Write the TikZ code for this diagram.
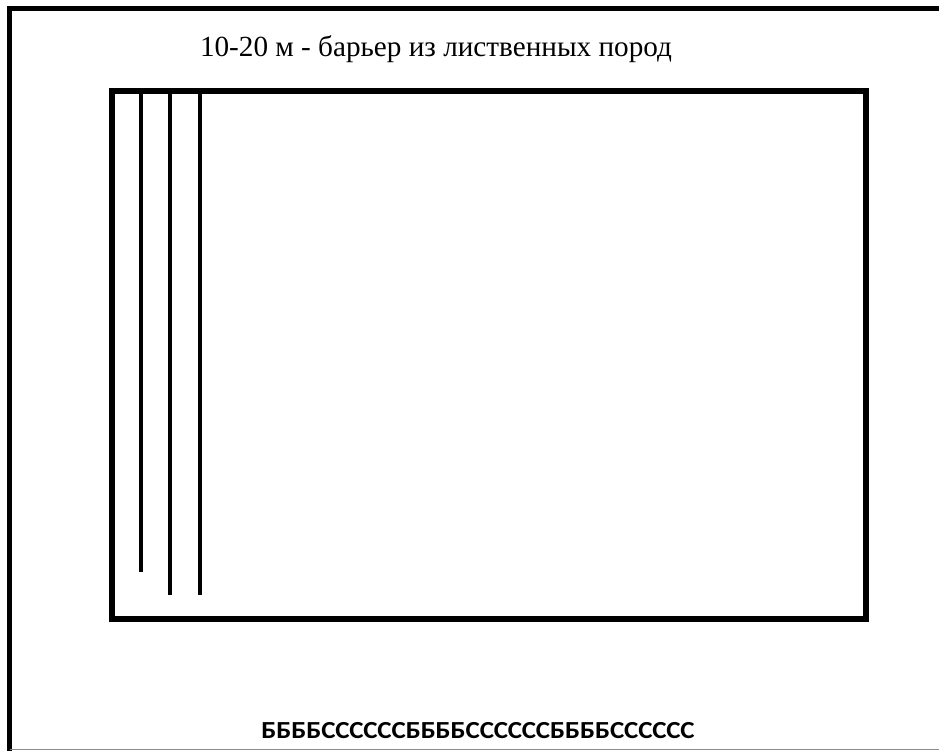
\documentclass[tikz,border=0pt]{standalone}
\usepackage{fontspec}
\setmainfont{Liberation Serif}
\newfontfamily\barfont[FakeStretch=1.1]{Carlito}
\usetikzlibrary{positioning}

\begin{document}
\begin{tikzpicture}[
  x=1pt,y=-1pt,
  frame/.style={line width=5pt},
  plot/.style={line width=6pt},
  row/.style={line width=4pt},
  title/.style={font=\fontsize{29.2}{33}\selectfont,anchor=base,inner sep=0pt},
  code/.style={font=\barfont\bfseries\fontsize{24.5}{28}\selectfont,anchor=base,inner sep=0pt},
]
\useasboundingbox (0,0) rectangle (939,751);

%% ── Outer frame ──────────────────────────────────────────────────────────
\draw[frame] (939,8.5) -- (9.5,8.5) -- (9.5,751);
\draw[line width=1.5pt,black!45] (9.5,749.5) -- (939,749.5);

%% ── Title ────────────────────────────────────────────────────────────────
\node[title] (barrier) at (436,57) {10-20 м - барьер из лиственных пород};

%% ── Plot ─────────────────────────────────────────────────────────────────
\draw[plot] (112,91) rectangle (866,619);

%% ── Tree rows ────────────────────────────────────────────────────────────
\draw[row] (141,91) -- (141,572);
\draw[row] (170,91) -- (170,595);
\draw[row] (200,91) -- (200,595);

%% ── Species code ─────────────────────────────────────────────────────────
\node[code] (species) at (478,738) {ББББССССССББББССССССББББСССССС};

\end{tikzpicture}
\end{document}
